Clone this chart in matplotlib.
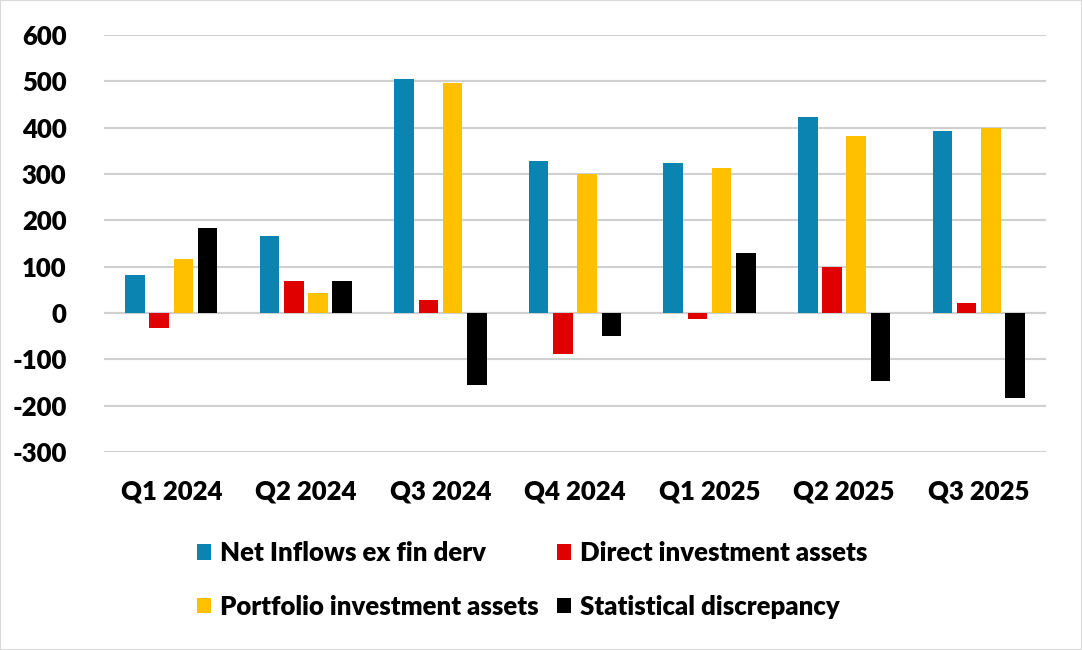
import numpy as np
import matplotlib
matplotlib.use("Agg")
import matplotlib.pyplot as plt
from matplotlib.patches import Rectangle

plt.rcParams['font.family'] = ['Lato', 'DejaVu Sans']
plt.rcParams['font.weight'] = 'heavy'
plt.rcParams['axes.unicode_minus'] = False

# Data
quarters = ["Q1 2024", "Q2 2024", "Q3 2024", "Q4 2024", "Q1 2025", "Q2 2025", "Q3 2025"]
net_inflows = [81, 167, 504, 329, 323, 422, 392]
direct_inv = [-33, 68, 28, -89, -13, 100, 21]
portfolio_inv = [117, 44, 496, 299, 312, 383, 400]
stat_discrepancy = [184, 70, -155, -50, 129, -147, -183]

series_names = ["Net Inflows ex fin derv", "Direct investment assets",
                "Portfolio investment assets", "Statistical discrepancy"]
series_colors = ["#0B84B1", "#E00000", "#FFC000", "#000000"]
series = [net_inflows, direct_inv, portfolio_inv, stat_discrepancy]

fig = plt.figure(figsize=(10.82, 6.5), dpi=100)
fig.patches.append(Rectangle((0, 0), 1, 1, transform=fig.transFigure,
                             fill=False, edgecolor="#D9D9D9", linewidth=1.5))
ax = fig.add_axes([104 / 1082, 1 - 452 / 650, (1046 - 104) / 1082, (452 - 35) / 650])

x = np.arange(len(quarters))
width = 0.145
pitch = 0.18
for i, (vals, name, col) in enumerate(zip(series, series_names, series_colors)):
    ax.bar(x + (i - 1.5) * pitch, vals, width, color=col, label=name, zorder=3)

ax.set_ylim(-300, 600)
ax.set_yticks(range(-300, 601, 100))
ax.set_xlim(-0.5, len(quarters) - 0.5)
ax.set_xticks(x)
ax.set_xticklabels(quarters)
ax.grid(axis="y", color="#D0D0D0", linewidth=1.5, zorder=0)
ax.axhline(0, color="#D0D0D0", linewidth=1.5, zorder=1)
for s in ax.spines.values():
    s.set_visible(False)
ax.tick_params(axis="both", length=0, labelsize=18.5)
ax.tick_params(axis="y", pad=27)
ax.tick_params(axis="x", pad=20)

# row-wise legend order like the original
handles, labels = ax.get_legend_handles_labels()
order = [0, 2, 1, 3]
fig.legend([handles[k] for k in order], [labels[k] for k in order], ncol=2,
           frameon=False, fontsize=18.5,
           loc="center", bbox_to_anchor=(0.492, 0.108),
           handlelength=0.55, handleheight=0.55, handletextpad=0.35,
           columnspacing=0.7, labelspacing=1.15)

fig.savefig("out.png", dpi=100)
